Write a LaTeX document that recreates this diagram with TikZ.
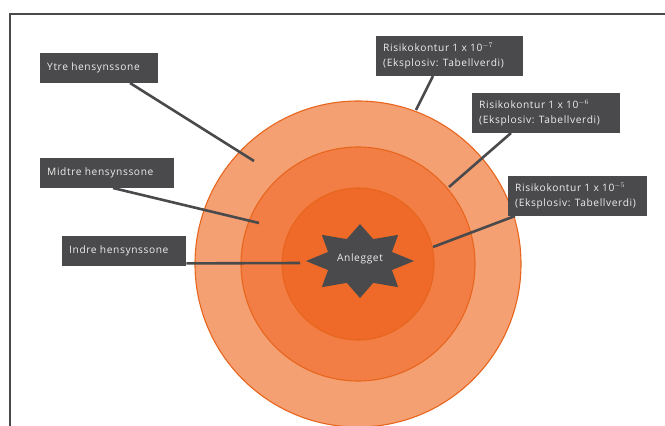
\documentclass[tikz,border=0pt]{standalone}
\usepackage{fontspec}
\setmainfont{Open Sans}[LetterSpace=6]
\usetikzlibrary{positioning}
\definecolor{zoneout}{HTML}{F4A072}
\definecolor{zonemid}{HTML}{F27E45}
\definecolor{zonein}{HTML}{EF6A28}
\definecolor{zoneedge}{HTML}{E8651D}
\definecolor{tagfill}{HTML}{4A4A4C}
\definecolor{tagtext}{HTML}{EDEDED}

\begin{document}
\begin{tikzpicture}[x=1pt, y=-1pt, font=\fontsize{10.2}{15}\selectfont,
  zonetag/.style={fill=tagfill, text=tagtext, align=flush left, anchor=north west,
    inner xsep=7pt, inner ysep=0pt, minimum height=30pt},
  risktag/.style={zonetag, minimum height=40pt},
  leader/.style={draw=tagfill, line width=2.6pt},
  zone/.style={draw=zoneedge, line width=1.1pt}]
  \clip (0,0) rectangle (665,426);
  \draw[tagfill, line width=2pt] (10,440) -- (10,14) -- (680,14);

  % zones
  \coordinate (c) at (358,264);
  \filldraw[zone, fill=zoneout] (c) circle [radius=163];
  \filldraw[zone, fill=zonemid] (c) circle [radius=117];
  \filldraw[zone, fill=zonein]  (c) circle [radius=76];

  % plant
  \fill[tagfill] plot[samples at={0,...,15}, variable=\k]
    ({360+ (1-0.36*mod(\k,2))*54*cos(90+22.5*\k)},
     {261+ (1-0.36*mod(\k,2))*37*sin(90+22.5*\k)}) -- cycle;
  \node[text=tagtext] (plant) at (360,259) {Anlegget};

  % labels
  \node[zonetag, text width=104pt] (ytre)   at (40,53)   {Ytre hensynssone};
  \node[zonetag, text width=120pt] (midtre) at (40,158)  {Midtre hensynssone};
  \node[zonetag, text width=110pt] (indre)  at (62,236)  {Indre hensynssone};
  \node[risktag, text width=133pt] (r7) at (376,36)  {Risikokontur 1 x 10$^{-7}$\\(Eksplosiv: Tabellverdi)};
  \node[risktag, text width=134pt] (r6) at (472,93)  {Risikokontur 1 x 10$^{-6}$\\(Eksplosiv: Tabellverdi)};
  \node[risktag, text width=125pt] (r5) at (508,176) {Risikokontur 1 x 10$^{-5}$\\(Eksplosiv: Tabellverdi)};

  % leaders
  \coordinate (ytreend)   at (254,161);
  \coordinate (midtreend) at (259,223);
  \coordinate (indreend)  at (300,263);
  \coordinate (r7end) at (416,110);
  \coordinate (r6end) at (449,187);
  \coordinate (r5end) at (433,247);
  \draw[leader] (130,83) -- (ytreend);
  \draw[leader] (113,188) -- (midtreend);
  \draw[leader] ([yshift=3pt]indre.south east) -- (indreend);
  \draw[leader] (433,76) -- (r7end);
  \draw[leader] (511,133) -- (r6end);
  \draw[leader] (515,216) -- (r5end);
\end{tikzpicture}
\end{document}
